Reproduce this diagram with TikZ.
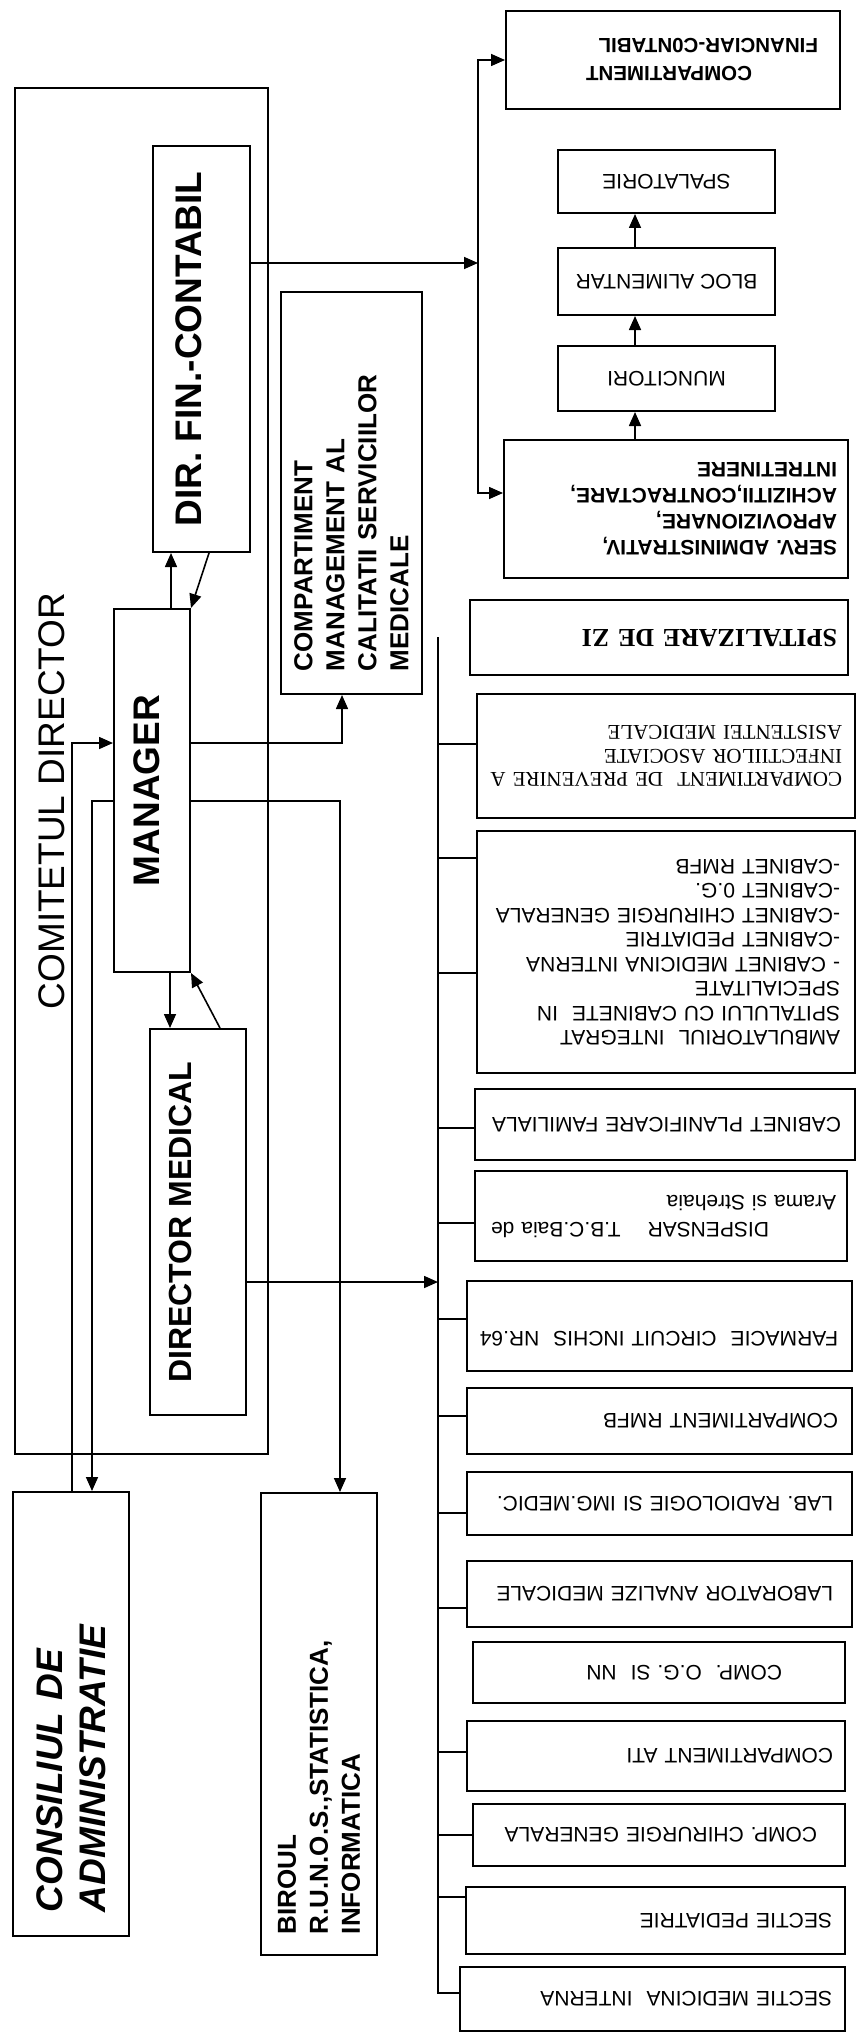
\documentclass[tikz,border=0pt]{standalone}
\usepackage{fontspec}
\setmainfont{Liberation Serif}
\setsansfont{Liberation Sans}
\usetikzlibrary{calc,arrows.meta}

\tikzset{
  frame/.style={draw, line width=2pt, inner sep=0pt},
  upright/.style={frame, rotate=90},
  flipped/.style={frame, rotate=180},
  link/.style={line width=1.6pt},
  arr/.style={link, -{Triangle[length=14pt,width=12pt]}},
  plain/.style={font=\sffamily\fontsize{21}{24.5}\selectfont},
}

\begin{document}
\begin{tikzpicture}[x=1pt,y=-1pt]
\useasboundingbox (0,0) rectangle (858,2044);

% comitetul director
\node[frame, minimum width=253pt, minimum height=1366pt] (board) at (141.5,771) {};
\node[rotate=90, font=\sffamily\fontsize{37}{44}\selectfont] (boardname) at (52,801) {COMITETUL DIRECTOR};

\node[upright, minimum width=406pt, minimum height=97pt, text height=26.5pt, text depth=26pt,
  font=\sffamily\bfseries\fontsize{37}{44}\selectfont] (dirfin) at (201.5,349) {DIR. FIN.-CONTABIL};
\node[upright, minimum width=363pt, minimum height=76pt, text height=26.5pt, text depth=11pt,
  font=\sffamily\bfseries\fontsize{37}{44}\selectfont] (manager) at (152,790.5) {MANAGER};
\node[upright, minimum width=386pt, minimum height=96pt, text height=23pt, text depth=36pt,
  font=\sffamily\bfseries\fontsize{32}{38}\selectfont] (dirmed) at (198,1222) {DIRECTOR MEDICAL};
\node[upright, minimum width=402pt, minimum height=141pt, text width=356pt, align=left,
  font=\sffamily\bfseries\fontsize{26}{32}\selectfont] (quality) at (351.5,493)
  {COMPARTIMENT\\MANAGEMENT AL\\CALITATII SERVICIILOR\\MEDICALE};
\node[upright, minimum width=444pt, minimum height=116pt, text width=396pt, align=left,
  font=\sffamily\bfseries\itshape\fontsize{37}{43}\selectfont] (council) at (71,1714)
  {CONSILIUL DE\\ADMINISTRATIE};
\node[upright, minimum width=462pt, minimum height=116pt, text width=420pt, align=left,
  font=\sffamily\bfseries\fontsize{26}{32}\selectfont] (office) at (319,1724)
  {BIROUL\\R.U.N.O.S.,STATISTICA,\\INFORMATICA};

% servicii financiar-administrative
\node[flipped, minimum width=334pt, minimum height=98pt, text width=290pt, align=left,
  font=\sffamily\bfseries\fontsize{20.5}{28}\selectfont] (fincomp) at (673,60)
  {\hspace*{66pt}COMPARTIMENT\\FINANCIAR-C0NTABIL};
\node[flipped, plain, minimum width=217pt, minimum height=63pt] (laundry) at (666.5,181.5) {SPALATORIE};
\node[flipped, plain, minimum width=217pt, minimum height=67pt] (kitchen) at (666.5,281.5) {BLOC ALIMENTAR};
\node[flipped, plain, minimum width=217pt, minimum height=65pt] (workers) at (666.5,378.5) {MUNCITORI};
\node[flipped, minimum width=344pt, minimum height=138pt, text width=322pt, align=left,
  font=\sffamily\bfseries\fontsize{21}{26}\selectfont] (admin) at (676,509)
  {SERV. ADMINISTRATIV,\\APROVIZIONARE,\\ACHIZITII,CONTRACTARE,\\INTRETINERE};

% sectii si compartimente
\node[flipped, minimum width=378pt, minimum height=75pt, text width=356pt, align=left,
  font=\rmfamily\bfseries\fontsize{26}{30}\selectfont] (dayward) at (659,637.5) {SPITALIZARE DE ZI};
\node[flipped, minimum width=378pt, minimum height=124pt, text width=352pt, align=left,
  font=\rmfamily\fontsize{21}{23.5}\selectfont] (infection) at (666,756)
  {COMPARTIMENT\ \ DE PREVENIRE A\\INFECTIILOR ASOCIATE\\ASISTENTEI MEDICALE};
\node[flipped, plain, minimum width=378pt, minimum height=242pt, text width=348pt, align=left] (clinic) at (666,952)
  {AMBULATORIUL\ \ INTEGRAT\\SPITALULUI CU CABINETE\ \ IN\\SPECIALITATE\\- CABINET MEDICINA INTERNA\\-CABINET PEDIATRIE\\-CABINET CHIRURGIE GENERALA\\-CABINET 0.G.\\-CABINET RMFB};
\node[flipped, plain, minimum width=380pt, minimum height=71pt, text width=352pt, align=left] (planning) at (665,1124.5)
  {\mbox{CABINET PLANIFICARE FAMILIALA}};
\node[flipped, minimum width=372pt, minimum height=90pt, text width=350pt, align=left,
  font=\sffamily\fontsize{21}{27}\selectfont] (tbc) at (661,1216)
  {\mbox{\hspace*{67pt}DISPENSAR\hspace{27pt}T.B.C.Baia de}\\Arama si Strehaia};
\node[flipped, plain, minimum width=385pt, minimum height=90pt, text width=357pt, align=left,
  text height=15pt, text depth=26pt] (pharmacy) at (659.5,1326) {\mbox{FARMACIE\ \ CIRCUIT INCHIS\ \ NR.64}};
\node[flipped, plain, minimum width=385pt, minimum height=66pt, text width=357pt, align=left] (rehab) at (659.5,1421) {COMPARTIMENT RMFB};
\node[flipped, plain, minimum width=385pt, minimum height=63pt, text width=347pt, align=left] (radiology) at (659.5,1503.5) {LAB. RADIOLOGIE SI IMG.MEDIC.};
\node[flipped, plain, minimum width=385pt, minimum height=66pt, text width=347pt, align=left] (lab) at (659.5,1594) {LABORATOR ANALIZE MEDICALE};
\node[flipped, plain, minimum width=372pt, minimum height=61pt, text width=246pt, align=left] (obgyn) at (659,1672.5) {COMP.\ \ O.G. SI\ \ NN};
\node[flipped, plain, minimum width=378pt, minimum height=70pt, text width=354pt, align=left] (icu) at (656,1756) {COMPARTIMENT ATI};
\node[flipped, plain, minimum width=372pt, minimum height=62pt, text width=316pt, align=left] (surgery) at (659,1835) {\mbox{COMP. CHIRURGIE GENERALA}};
\node[flipped, plain, minimum width=379pt, minimum height=67pt, text width=353pt, align=left] (pediatrics) at (655.5,1920.5) {SECTIE PEDIATRIE};
\node[flipped, plain, minimum width=385pt, minimum height=64pt, text width=359pt, align=left] (internal) at (652.5,1999) {SECTIE MEDICINA\ \ INTERNA};

% legaturi conducere
\draw[arr] (manager.east -| 171,0) -- (dirfin.west -| 171,0);
\draw[arr] (dirfin.west -| 209,0) -- (manager.south east);
\draw[arr] (manager.west -| 170,0) -- (dirmed.east -| 170,0);
\draw[arr] (dirmed.east -| 220,0) -- (manager.south west);
\draw[arr] (council.east -| 72,0) |- (manager.north |- 0,743);
\draw[arr] (manager.north |- 0,801) -| (council.east -| 92,0);
\draw[arr] (manager.south |- 0,743) -| (quality.west -| 342,0);
\draw[arr] (manager.south |- 0,801) -| (office.east -| 340,0);

% ramura financiara
\coordinate (finsplit) at (478,263);
\coordinate (chain) at (635,0);
\draw[arr] (dirfin.south |- finsplit) -- (finsplit);
\draw[arr] (finsplit) |- (fincomp.east);
\draw[arr] (finsplit) |- (admin.east |- 0,493);
\draw[arr] (admin.south -| chain) -- (workers.north -| chain);
\draw[arr] (workers.south -| chain) -- (kitchen.north -| chain);
\draw[arr] (kitchen.south -| chain) -- (laundry.north -| chain);

% ramura medicala
\coordinate (bustop) at (438,637);
\coordinate (busend) at (438,1993);
\draw[arr] (dirmed.south |- 0,1282) -- (bustop |- 0,1282);
\draw[link] (bustop) -- (busend) -- (internal.east |- busend);
\draw[link] (bustop |- 0,744) -- (infection.east |- 0,744);
\draw[link] (bustop |- 0,858) -- (clinic.east |- 0,858);
\draw[link] (bustop |- 0,973) -- (clinic.east |- 0,973);
\draw[link] (bustop |- 0,1128) -- (planning.east |- 0,1128);
\draw[link] (bustop |- 0,1223) -- (tbc.east |- 0,1223);
\draw[link] (bustop |- 0,1319) -- (pharmacy.east |- 0,1319);
\draw[link] (bustop |- 0,1416) -- (rehab.east |- 0,1416);
\draw[link] (bustop |- 0,1513) -- (radiology.east |- 0,1513);
\draw[link] (bustop |- 0,1608) -- (lab.east |- 0,1608);
\draw[link] (bustop |- 0,1752) -- (icu.east |- 0,1752);
\draw[link] (bustop |- 0,1835) -- (surgery.east |- 0,1835);
\draw[link] (bustop |- 0,1897) -- (pediatrics.east |- 0,1897);
\end{tikzpicture}
\end{document}
